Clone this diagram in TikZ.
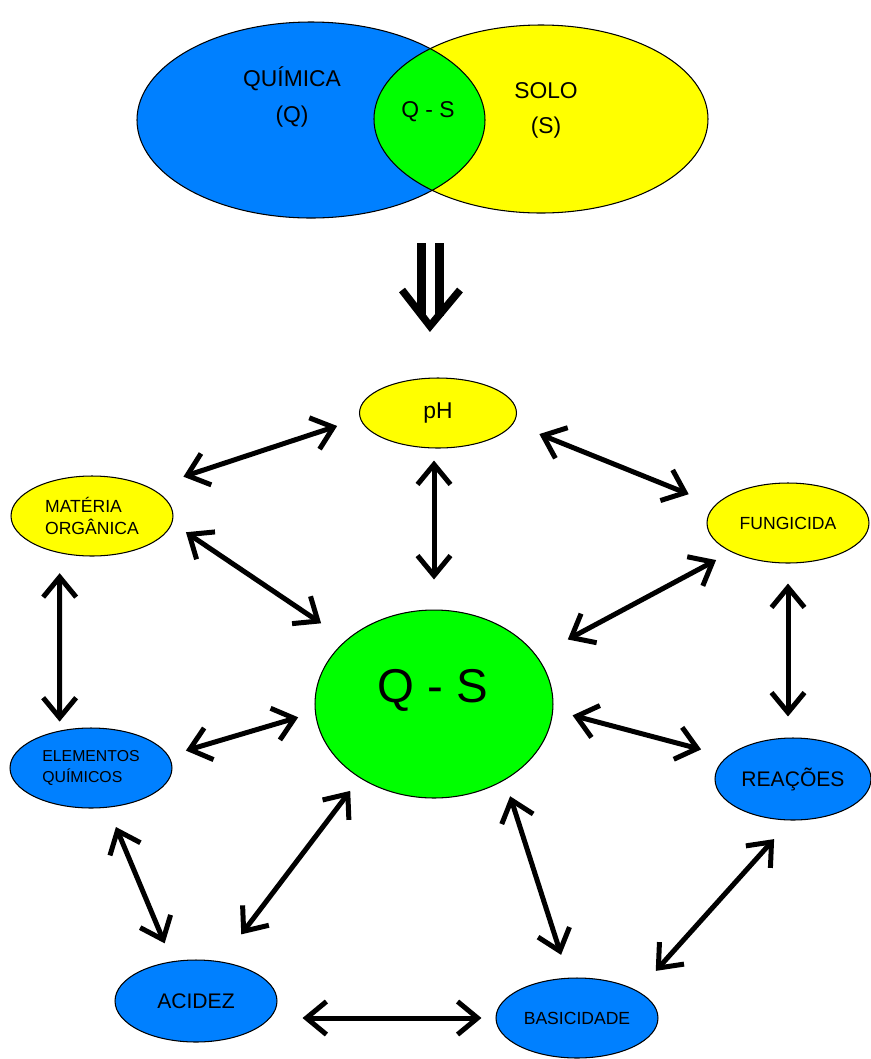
\documentclass[tikz,border=0pt]{standalone}
\usepackage{fontspec}
\setmainfont{Liberation Sans}
\usepackage{tikz}
\usetikzlibrary{arrows.meta,shapes.geometric}
\definecolor{blueQ}{RGB}{0,128,255}
\definecolor{yellowS}{RGB}{255,255,0}
\definecolor{greenQS}{RGB}{0,255,0}

\begin{document}
\begin{tikzpicture}[x=0.02cm, y=-0.02cm,
        ell/.style={ellipse, draw, line width=0.6pt, inner sep=0pt},
        dup/.style={{Straight Barb[length=4mm, width=6.6mm]}-{Straight Barb[length=4mm, width=6.6mm]}, line width=1mm}]
        \useasboundingbox (0,0) rectangle (870,1059);

        % venn
        \fill[blueQ] (311,120) ellipse [x radius=174, y radius=98];
        \fill[yellowS] (541,119) ellipse [x radius=167, y radius=94];
        \begin{scope}
            \clip (311,120) ellipse [x radius=174, y radius=98];
            \fill[greenQS] (541,119) ellipse [x radius=167, y radius=94];
        \end{scope}
        \draw[line width=0.6pt] (311,120) ellipse [x radius=174, y radius=98];
        \draw[line width=0.6pt] (541,119) ellipse [x radius=167, y radius=94];
        \node (quim) [align=center, font=\fontsize{13}{20}\selectfont] at (292,97) {QUÍMICA\\(Q)};
        \node (solo) [align=center, font=\fontsize{13}{20}\selectfont] at (546,110) {SOLO\\(S)};
        \node (inter) [font=\fontsize{13}{16}\selectfont] at (428,112) {Q - S};

        % double arrow
        \draw[line width=1.8mm] (421,243) -- (421,316);
        \draw[line width=1.8mm] (439,243) -- (439,316);
        \draw[line width=1.5mm] (402,290) -- (430,326) -- (460,290);

        \node (ph) [ell, fill=yellowS, minimum width=31.4mm, minimum height=14mm, font=\fontsize{13}{16}\selectfont] at (438,413) {pH};
        \node (mo) [ell, fill=yellowS, minimum width=32.4mm, minimum height=16mm, align=left, font=\fontsize{10}{13}\selectfont] at (92,516) {MATÉRIA\\ORGÂNICA};
        \node (fung) [ell, fill=yellowS, minimum width=32.4mm, minimum height=16mm, font=\fontsize{10}{12}\selectfont] at (788,523) {FUNGICIDA};
        \node (qs) [ell, fill=greenQS, minimum width=47.6mm, minimum height=37.6mm] at (434,704) {};
        \node (qslabel) [font=\fontsize{27}{30}\selectfont] at (433,690) {Q - S};
        \node (eq) [ell, fill=blueQ, minimum width=32.4mm, minimum height=16mm, align=left, font=\fontsize{9}{12}\selectfont] at (91,768) {ELEMENTOS\\QUÍMICOS};
        \node (rea) [ell, fill=blueQ, minimum width=31.2mm, minimum height=16.4mm, font=\fontsize{12}{14}\selectfont] at (793,779) {REAÇÕES};
        \node (aci) [ell, fill=blueQ, minimum width=32.4mm, minimum height=16.4mm, font=\fontsize{12}{14}\selectfont] at (196,1001) {ACIDEZ};
        \node (bas) [ell, fill=blueQ, minimum width=32.4mm, minimum height=16mm, font=\fontsize{10}{12}\selectfont] at (577,1018) {BASICIDADE};

        \draw[dup, shorten <=7mm, shorten >=4.8mm] (mo.26.6) -- (ph.184);
        \draw[dup, shorten <=3.3mm, shorten >=6mm] (mo.-5.4) -- (qs.144);
        \draw[dup, shorten <=2.4mm, shorten >=6mm] (qs.north |- ph.south) -- (qs.north);
        \draw[dup, shorten <=4mm, shorten >=1.8mm] (mo.229) -- (eq.130);
        \draw[dup, shorten <=5.6mm, shorten >=5.7mm] (ph.-8.4) -- (fung.166);
        \draw[dup, shorten <=3.4mm, shorten >=7mm] (fung.207.5) -- (qs.25.7);
        \draw[dup, shorten <=4mm, shorten >=4.2mm] (fung.south) -- (fung.south |- rea.north);
        \draw[dup, shorten <=3.6mm, shorten >=3.5mm] (eq.9.7) -- (qs.184.6);
        \draw[dup, shorten <=4.2mm, shorten >=3.9mm] (eq.-67.9) -- (aci.121.3);
        \draw[dup, shorten <=6.8mm, shorten >=3.2mm] (aci.58.3) -- (qs.225.7);
        \draw[dup, shorten <=5mm, shorten >=2.8mm] (aci.east |- bas.west) -- (bas.west);
        \draw[dup, shorten <=3.4mm, shorten >=4.8mm] (qs.-47.7) -- (bas.102.5);
        \draw[dup, shorten <=5.4mm, shorten >=5mm] (bas.24.1) -- (rea.267.4);
        \draw[dup, shorten <=4mm, shorten >=5.4mm] (qs.-3.7) -- (rea.161.2);
    \end{tikzpicture}
\end{document}
